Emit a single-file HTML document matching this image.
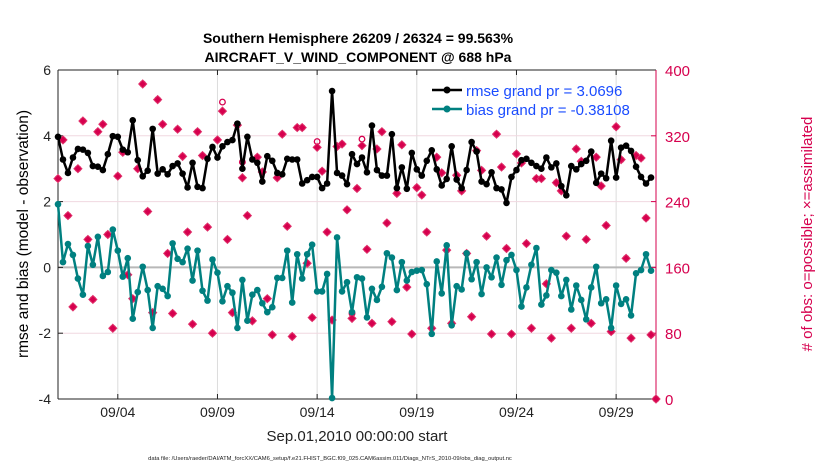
<!DOCTYPE html>
<html><head><meta charset="utf-8"><style>
body{margin:0;background:#fff;}
svg{display:block;font-family:"Liberation Sans",Arial,sans-serif;}
</style></head><body>
<svg id="chart" width="830" height="470" viewBox="0 0 830 470">
<g id="grid"></g>
<g id="axes"></g>
<g id="series"></g>
<text x="358" y="43" text-anchor="middle" font-size="14" font-weight="bold">Southern Hemisphere 26209 / 26324 = 99.563%</text>
<text x="358" y="62" text-anchor="middle" font-size="14" font-weight="bold">AIRCRAFT_V_WIND_COMPONENT @ 688 hPa</text>
<text transform="translate(28,234) rotate(-90)" text-anchor="middle" font-size="15.5">rmse and bias (model - observation)</text>
<text transform="translate(812,234) rotate(-90)" text-anchor="middle" font-size="15" fill="#d6004e"># of obs: o=possible; ×=assimilated</text>
<text x="357" y="441" text-anchor="middle" font-size="15" fill="#222">Sep.01,2010 00:00:00 start</text>
<text x="330" y="460" text-anchor="middle" font-size="5.8" fill="#222">data file: /Users/raeder/DAI/ATM_forcXX/CAM6_setup/f.e21.FHIST_BGC.f09_025.CAM6assim.011/Diags_NTrS_2010-09/obs_diag_output.nc</text>
<g>
<line x1="432" y1="90" x2="462" y2="90" stroke="#000" stroke-width="2.5"/><circle cx="447" cy="90" r="3.5" fill="#000"/>
<text x="466" y="96" font-size="15" fill="#1a4cff">rmse grand pr = 3.0696</text>
<line x1="432" y1="109" x2="462" y2="109" stroke="#008080" stroke-width="2.5"/><circle cx="447" cy="109" r="3.5" fill="#008080"/>
<text x="466" y="115" font-size="15" fill="#1a4cff">bias grand pr = -0.38108</text>
</g>
</svg>
<script>
const rmse=[3.97,3.28,2.87,3.34,3.6,3.58,3.48,3.08,3.06,2.96,3.44,3.99,3.97,3.58,3.5,4.47,3.26,2.77,2.94,4.21,2.85,2.98,2.83,3.08,3.16,2.85,2.43,3.18,2.45,2.41,3.3,3.66,3.34,3.68,3.81,3.87,4.37,3.0,3.97,3.28,3.18,2.61,3.38,3.24,2.87,2.83,3.3,3.28,3.28,2.55,2.65,2.75,2.75,2.41,2.55,5.36,2.87,2.79,2.53,3.44,3.14,3.34,2.89,4.31,2.96,2.79,2.79,4.05,2.41,3.04,2.39,3.48,2.98,2.79,3.24,3.56,2.98,2.49,2.69,3.68,2.67,2.41,2.96,3.81,3.52,2.61,2.53,2.89,2.41,2.37,1.96,2.75,2.96,3.26,3.3,3.18,3.08,3.0,3.34,3.04,3.16,2.47,2.19,3.08,2.98,3.14,3.24,3.52,2.57,2.85,2.71,3.85,2.73,3.64,3.7,3.54,3.06,2.75,2.55,2.73];
const bias=[1.92,0.16,0.71,0.38,-0.34,-0.83,0.65,0.08,0.93,-0.26,-0.14,1.15,0.51,-0.28,0.28,-1.56,-0.75,0.02,-0.69,-1.84,-0.57,-0.65,-0.87,0.73,0.26,0.16,0.57,-0.4,0.51,-0.71,-1.01,0.24,-0.16,-1.03,-0.57,-0.77,-1.84,-0.38,-1.62,-0.83,-0.69,-1.09,-1.36,-1.21,-0.32,-0.32,0.51,-1.07,0.4,-0.34,0.4,0.69,-0.73,-0.73,-0.2,-3.97,0.91,-0.73,-0.45,-1.36,-0.3,-0.34,-1.52,-0.65,-0.99,-0.59,0.43,0.3,-0.69,0.16,-0.4,-0.14,-0.1,-0.08,-0.51,-2.02,0.18,-0.79,0.67,-1.76,-0.57,-0.67,0.43,-0.36,0.16,-0.81,0,-0.3,0.3,-0.53,0.22,0.38,-0.08,-1.19,-0.61,0.08,0.59,-1.13,-0.85,-0.08,-0.16,-0.87,-0.38,-1.28,-0.55,-0.99,-1.58,-0.61,0.02,-1.09,-0.97,-1.84,-0.55,-1.11,-0.97,-1.46,-0.18,-0.08,0.4,-0.1];
const nUsed=[268,315,223,112,280,338,194,121,325,334,200,86,271,300,151,122,280,383,228,105,364,334,177,104,328,295,203,91,325,296,209,80,315,350,194,105,333,269,223,95,294,276,122,78,269,322,210,76,330,330,165,99,306,277,203,96,307,310,230,98,256,308,182,92,304,325,214,94,250,309,136,79,257,248,203,86,294,275,181,92,272,253,177,100,302,278,198,79,322,282,183,79,298,287,189,86,268,268,140,74,263,253,198,86,304,289,194,92,294,259,211,82,331,291,171,74,296,293,220,78,0];
const nPoss=[268,315,223,112,280,338,194,121,325,334,200,86,271,300,151,122,280,383,228,105,364,334,177,104,328,295,203,91,325,296,209,80,315,361,194,105,333,288,223,95,294,276,122,78,269,322,210,76,330,330,165,99,313,277,203,96,307,310,230,104,256,316,182,92,304,325,214,94,250,309,136,79,257,248,203,86,294,275,181,92,272,253,177,100,302,278,198,79,322,282,183,79,298,287,189,86,268,268,140,74,263,253,198,86,304,289,194,92,294,259,211,82,331,291,171,74,296,293,220,78,0];
const leftTicks=[-4,-2,0,2,4,6];
const rightTicks=[0,80,160,240,320,400];
const dayTicks=[3,8,13,18,23,28];
const dayLabels=["09/04","09/09","09/14","09/19","09/24","09/29"];

const X0=58,X1=656,Y0=70,Y1=399;
const xDay=d=>X0+d*(X1-X0)/30;
const xIdx=i=>xDay(i*0.25);
const yL=v=>Y0+(6-v)*(Y1-Y0)/10;
const yR=v=>Y1-v*(Y1-Y0)/400;
const NS='http://www.w3.org/2000/svg';
function mk(tag,attrs,parent){const e=document.createElementNS(NS,tag);for(const k in attrs)e.setAttribute(k,attrs[k]);parent.appendChild(e);return e;}
const grid=document.getElementById('grid'),axes=document.getElementById('axes'),ser=document.getElementById('series');

dayTicks.forEach((d,k)=>{
  const gl=mk('line',{x1:xDay(d),x2:xDay(d),y1:Y0,y2:Y1,stroke:'#dcdcdc','stroke-width':1},grid);
  
  
  const t=mk('text',{x:xDay(d),y:417,'text-anchor':'middle','font-size':14,fill:'#222'},axes);
  t.textContent=dayLabels[k];
  
  
  mk('line',{x1:xDay(d),x2:xDay(d),y1:Y1,y2:Y1-5,stroke:'#222'},axes);
  mk('line',{x1:xDay(d),x2:xDay(d),y1:Y0,y2:Y0+5,stroke:'#222'},axes);
});
leftTicks.forEach(v=>{
  if(v!==0&&v!==6&&v!==-4){const gl=mk('line',{x1:X0,x2:X1,y1:yL(v),y2:yL(v),stroke:'#f0d8e0','stroke-width':1},grid);
  
  }
  const t=mk('text',{x:X0-7,y:yL(v)+5,'text-anchor':'end','font-size':14,fill:'#222'},axes);
  t.textContent=v;
  
  
  mk('line',{x1:X0,x2:X0+5,y1:yL(v),y2:yL(v),stroke:'#222'},axes);
});
rightTicks.forEach(v=>{
  const t=mk('text',{x:X1+9,y:yR(v)+6,'font-size':15,fill:'#d6004e'},axes);
  t.textContent=v;
  
  
  mk('line',{x1:X1,x2:X1-5,y1:yR(v),y2:yR(v),stroke:'#d6004e'},axes);
});
const zl=mk('line',{x1:X0,x2:X1,y1:yL(0),y2:yL(0),stroke:'#b8b8b8','stroke-width':2},grid);


mk('line',{x1:X0,x2:X1,y1:Y0,y2:Y0,stroke:'#222'},axes);
mk('line',{x1:X0,x2:X1,y1:Y1,y2:Y1,stroke:'#222'},axes);
mk('line',{x1:X0,x2:X0,y1:Y0,y2:Y1,stroke:'#222'},axes);
mk('line',{x1:X1,x2:X1,y1:Y0,y2:Y1,stroke:'#d6004e'},axes);

nPoss.forEach((v,i)=>{
  const c=mk('circle',{cx:xIdx(i),cy:yR(v),r:2.8,fill:'none',stroke:'#d6004e','stroke-width':1.3},ser);
  
  
});
nUsed.forEach((v,i)=>{
  const x=xIdx(i),y=yR(v),s=4;
  const p=mk('path',{d:`M${x-s},${y}L${x},${y-s}L${x+s},${y}L${x},${y+s}Z`,fill:'#d6004e',stroke:'#e0306a','stroke-width':1},ser);
  
  
});
function line(arr,color,name){
  const pts=arr.map((v,i)=>xIdx(i)+','+yL(v)).join(' ');
  const pl=mk('polyline',{points:pts,fill:'none',stroke:color,'stroke-width':2.5,'stroke-linejoin':'round'},ser);
  
  
  arr.forEach((v,i)=>{
    const c=mk('circle',{cx:xIdx(i),cy:yL(v),r:3.3,fill:color},ser);
    
    
  });
}
line(bias,'#008080','bias');
line(rmse,'#000000','rmse');
</script>
</body></html>
